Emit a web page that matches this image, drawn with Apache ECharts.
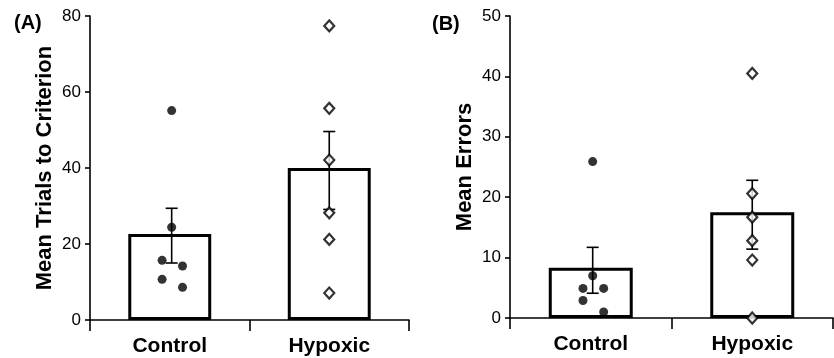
<!DOCTYPE html>
<html>
<head>
<meta charset="utf-8">
<script src="https://cdn.jsdelivr.net/npm/echarts@6/dist/echarts.min.js"></script>
<style>
  html, body { margin: 0; padding: 0; background: #fff; }
  #chart { width: 834px; height: 358px; }
</style>
</head>
<body>
<div id="chart"></div>
<script>
// categories
const categories = ['Control', 'Hypoxic'];

// (A) trials to criterion
const trialsMean = [22.6, 40.0];
const trialsErrLow = [15.0, 29.1];
const trialsErrHigh = [29.4, 49.6];
const trialsControl = [55.1, 24.4, 15.7, 14.2, 10.7, 8.6];
const trialsHypoxic = [77.4, 55.7, 42.1, 28.2, 21.2, 7.1];

// (B) errors
const errorsMean = [8.3, 17.5];
const errorsErrLow = [4.1, 11.4];
const errorsErrHigh = [11.7, 22.8];
const errorsControl = [25.9, 7.0, 4.9, 4.9, 2.9, 1.0];
const errorsHypoxic = [40.5, 20.6, 16.7, 12.8, 9.6, 0];

// horizontal spread of the individual points (in category units)
const controlSpread = [0.012, 0.012, -0.048, 0.08, -0.048, 0.08];
const hypoxicSpread = [0, 0, 0, 0, 0, 0];
const errX = [0.512, 1.5];

const FONT = "'Liberation Sans', Arial, Helvetica, sans-serif";

const chart = echarts.init(document.getElementById('chart'));

function pts(vals, spread, center) {
  return vals.map(function (v, i) { return [center + spread[i], v]; });
}

function errData(low, high) {
  return low.map(function (l, i) { return [errX[i], l, high[i]]; });
}

function renderErr(params, api) {
  const x = api.value(0);
  const top = api.coord([x, api.value(2)]);
  const bot = api.coord([x, api.value(1)]);
  const w = 6;
  const style = { stroke: '#000', lineWidth: 1.6 };
  return {
    type: 'group',
    children: [
      { type: 'line', shape: { x1: top[0], y1: top[1], x2: bot[0], y2: bot[1] }, style: style },
      { type: 'line', shape: { x1: top[0] - w, y1: top[1], x2: top[0] + w, y2: top[1] }, style: style },
      { type: 'line', shape: { x1: bot[0] - w, y1: bot[1], x2: bot[0] + w, y2: bot[1] }, style: style }
    ]
  };
}

function catAxis(gridIndex) {
  return {
    type: 'category', gridIndex: gridIndex, data: categories,
    axisLine: { lineStyle: { color: '#000', width: 1.6 } },
    axisTick: { show: true, length: 11, alignWithLabel: false, interval: 0, lineStyle: { color: '#000', width: 1.6 } },
    axisLabel: { color: '#000', fontSize: 21, fontWeight: 'bold', fontFamily: FONT, margin: 16 },
    splitLine: { show: false }
  };
}

function posAxis(gridIndex) {
  return { type: 'value', gridIndex: gridIndex, min: 0, max: 2, show: false };
}

function valAxis(gridIndex, max, interval, name) {
  return {
    type: 'value', gridIndex: gridIndex, min: 0, max: max, interval: interval,
    name: name, nameLocation: 'middle', nameGap: 34,
    nameTextStyle: { color: '#000', fontSize: 22, fontWeight: 'bold', fontFamily: FONT },
    axisLine: { show: true, lineStyle: { color: '#000', width: 1.6 } },
    axisTick: { show: true, length: 5, lineStyle: { color: '#000', width: 1.6 } },
    axisLabel: { color: '#000', fontSize: 17, fontFamily: FONT, margin: 9 },
    splitLine: { show: false }
  };
}

const barStyle = { color: '#fff', borderColor: '#000', borderWidth: 3 };
const dotStyle = { color: '#000' };
const diamondStyle = { color: '#fff', borderColor: '#000', borderWidth: 2.2 };

function panelSeries(g, mean, low, high, ctrl, hyp) {
  const xa = g * 2;
  return [
    { type: 'bar', xAxisIndex: xa, yAxisIndex: g, data: mean, barWidth: '52%', itemStyle: barStyle, silent: true, z: 1 },
    { type: 'custom', xAxisIndex: xa + 1, yAxisIndex: g, data: errData(low, high), renderItem: renderErr, z: 2 },
    { type: 'scatter', xAxisIndex: xa + 1, yAxisIndex: g, data: pts(ctrl, controlSpread, 0.5), symbol: 'circle', symbolSize: 9, itemStyle: dotStyle, z: 3 },
    { type: 'scatter', xAxisIndex: xa + 1, yAxisIndex: g, data: pts(hyp, hypoxicSpread, 1.5), symbol: 'diamond', symbolSize: [10, 11], itemStyle: diamondStyle, z: 3 }
  ];
}

const option = {
  backgroundColor: '#fff',
  animation: false,
  textStyle: { fontFamily: FONT },
  title: [
    { text: '(A)', left: 14, top: 13, padding: 0, textStyle: { color: '#000', fontSize: 20, fontWeight: 'bold', fontFamily: FONT } },
    { text: '(B)', left: 432, top: 14, padding: 0, textStyle: { color: '#000', fontSize: 20, fontWeight: 'bold', fontFamily: FONT } }
  ],
  grid: [
    { left: 90, top: 16, width: 319, height: 304 },
    { left: 510, top: 16, width: 323, height: 302 }
  ],
  xAxis: [catAxis(0), posAxis(0), catAxis(1), posAxis(1)],
  yAxis: [
    valAxis(0, 80, 20, 'Mean Trials to Criterion'),
    valAxis(1, 50, 10, 'Mean Errors')
  ],
  series: []
    .concat(panelSeries(0, trialsMean, trialsErrLow, trialsErrHigh, trialsControl, trialsHypoxic))
    .concat(panelSeries(1, errorsMean, errorsErrLow, errorsErrHigh, errorsControl, errorsHypoxic))
};

chart.setOption(option);
</script>
</body>
</html>
